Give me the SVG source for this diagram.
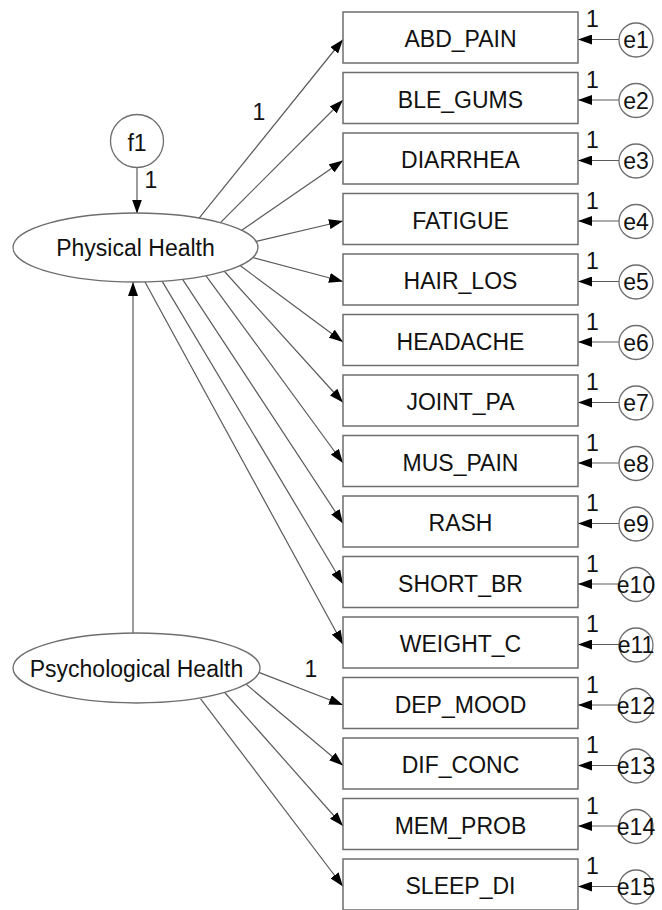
<svg xmlns="http://www.w3.org/2000/svg" width="662" height="910" viewBox="0 0 662 910">
  <defs>
    <marker id="arrow" viewBox="0 0 14 10" refX="14" refY="5" markerWidth="14" markerHeight="10" markerUnits="userSpaceOnUse" orient="auto">
      <path d="M0,0 L14,5 L0,10 z" fill="#000"/>
    </marker>
    <style>
      .path{stroke:#5a5a5a;stroke-width:1.2;fill:none;marker-end:url(#arrow)}
      .obs{fill:#fff;stroke:#6e6e6e;stroke-width:1.5}
      .lat{fill:#fff;stroke:#6e6e6e;stroke-width:1.3}
      text{font-family:"Liberation Sans",Arial,sans-serif;fill:#111;font-size:23px}
      .c{text-anchor:middle}
    </style>
  </defs>
  <rect width="662" height="910" fill="#fff"/>

  <!-- paths: latent -> indicator, error -> indicator, f1 -> latent, latent -> latent -->
  <g id="connectors">
    <line class="path" x1="137" y1="165" x2="137" y2="213.5"/>
    <line class="path" x1="133" y1="636" x2="133" y2="282"/>
    <line class="path" x1="197.5" y1="220.1" x2="343" y2="39.5"/>
    <line class="path" x1="220.2" y1="222.8" x2="343" y2="100"/>
    <line class="path" x1="241.7" y1="230.3" x2="343" y2="160.5"/>
    <line class="path" x1="254.1" y1="241.9" x2="343" y2="221"/>
    <line class="path" x1="251.1" y1="257" x2="343" y2="281.5"/>
    <line class="path" x1="238.8" y1="264.6" x2="343" y2="342"/>
    <line class="path" x1="222.3" y1="269" x2="343" y2="402.5"/>
    <line class="path" x1="204.6" y1="273.8" x2="343" y2="463"/>
    <line class="path" x1="180.8" y1="276.7" x2="343" y2="523.5"/>
    <line class="path" x1="160" y1="277.6" x2="343" y2="584"/>
    <line class="path" x1="143.1" y1="278.5" x2="343" y2="644.5"/>
    <line class="path" x1="254.3" y1="670.6" x2="343" y2="705"/>
    <line class="path" x1="243.9" y1="682.4" x2="343" y2="765.5"/>
    <line class="path" x1="224.3" y1="692" x2="343" y2="826"/>
    <line class="path" x1="200.6" y1="698.8" x2="343" y2="886.5"/>
    <!-- error terms -->
    <line class="path" x1="619" y1="39.5" x2="578" y2="39.5"/>
    <line class="path" x1="619" y1="100" x2="578" y2="100"/>
    <line class="path" x1="619" y1="160.5" x2="578" y2="160.5"/>
    <line class="path" x1="619" y1="221" x2="578" y2="221"/>
    <line class="path" x1="619" y1="281.5" x2="578" y2="281.5"/>
    <line class="path" x1="619" y1="342" x2="578" y2="342"/>
    <line class="path" x1="619" y1="402.5" x2="578" y2="402.5"/>
    <line class="path" x1="619" y1="463" x2="578" y2="463"/>
    <line class="path" x1="619" y1="523.5" x2="578" y2="523.5"/>
    <line class="path" x1="619" y1="584" x2="578" y2="584"/>
    <line class="path" x1="619" y1="644.5" x2="578" y2="644.5"/>
    <line class="path" x1="619" y1="705" x2="578" y2="705"/>
    <line class="path" x1="619" y1="765.5" x2="578" y2="765.5"/>
    <line class="path" x1="619" y1="826" x2="578" y2="826"/>
    <line class="path" x1="619" y1="886.5" x2="578" y2="886.5"/>
    <!-- fixed weights -->
    <text x="144.5" y="188">1</text>
    <text x="252.5" y="120">1</text>
    <text x="304.5" y="677">1</text>
    <text x="586" y="27">1</text>
    <text x="586" y="87.5">1</text>
    <text x="586" y="148">1</text>
    <text x="586" y="208.5">1</text>
    <text x="586" y="269">1</text>
    <text x="586" y="329.5">1</text>
    <text x="586" y="390">1</text>
    <text x="586" y="450.5">1</text>
    <text x="586" y="511">1</text>
    <text x="586" y="571.5">1</text>
    <text x="586" y="632">1</text>
    <text x="586" y="692.5">1</text>
    <text x="586" y="753">1</text>
    <text x="586" y="813.5">1</text>
    <text x="586" y="874">1</text>
  </g>

  <!-- latent variables -->
  <g id="f1"><circle class="lat" cx="137" cy="141" r="26.5"/><text class="c" x="137" y="151">f1</text></g>
  <g id="physical"><ellipse class="lat" cx="135.5" cy="247.5" rx="122.5" ry="34.5"/><text class="c" x="135.5" y="256">Physical Health</text></g>
  <g id="psychological"><ellipse class="lat" cx="136.5" cy="668" rx="123.5" ry="35"/><text class="c" x="136.5" y="677">Psychological Health</text></g>

  <!-- observed indicators -->
  <g id="abd_pain"><rect class="obs" x="343" y="12" width="235" height="51"/><text class="c" x="460.5" y="47">ABD_PAIN</text></g>
  <g id="ble_gums"><rect class="obs" x="343" y="72.5" width="235" height="51"/><text class="c" x="460.5" y="107.5">BLE_GUMS</text></g>
  <g id="diarrhea"><rect class="obs" x="343" y="133" width="235" height="51"/><text class="c" x="460.5" y="168">DIARRHEA</text></g>
  <g id="fatigue"><rect class="obs" x="343" y="193.5" width="235" height="51"/><text class="c" x="460.5" y="228.5">FATIGUE</text></g>
  <g id="hair_los"><rect class="obs" x="343" y="254" width="235" height="51"/><text class="c" x="460.5" y="289">HAIR_LOS</text></g>
  <g id="headache"><rect class="obs" x="343" y="314.5" width="235" height="51"/><text class="c" x="460.5" y="349.5">HEADACHE</text></g>
  <g id="joint_pa"><rect class="obs" x="343" y="375" width="235" height="51"/><text class="c" x="460.5" y="410">JOINT_PA</text></g>
  <g id="mus_pain"><rect class="obs" x="343" y="435.5" width="235" height="51"/><text class="c" x="460.5" y="470.5">MUS_PAIN</text></g>
  <g id="rash"><rect class="obs" x="343" y="496" width="235" height="51"/><text class="c" x="460.5" y="531">RASH</text></g>
  <g id="short_br"><rect class="obs" x="343" y="556.5" width="235" height="51"/><text class="c" x="460.5" y="591.5">SHORT_BR</text></g>
  <g id="weight_c"><rect class="obs" x="343" y="617" width="235" height="51"/><text class="c" x="460.5" y="652">WEIGHT_C</text></g>
  <g id="dep_mood"><rect class="obs" x="343" y="677.5" width="235" height="51"/><text class="c" x="460.5" y="712.5">DEP_MOOD</text></g>
  <g id="dif_conc"><rect class="obs" x="343" y="738" width="235" height="51"/><text class="c" x="460.5" y="773">DIF_CONC</text></g>
  <g id="mem_prob"><rect class="obs" x="343" y="798.5" width="235" height="51"/><text class="c" x="460.5" y="833.5">MEM_PROB</text></g>
  <g id="sleep_di"><rect class="obs" x="343" y="859" width="235" height="51"/><text class="c" x="460.5" y="894">SLEEP_DI</text></g>

  <!-- error terms -->
  <g id="e1"><circle class="lat" cx="636" cy="40" r="17"/><text class="c" x="636" y="48">e1</text></g>
  <g id="e2"><circle class="lat" cx="636" cy="100.5" r="17"/><text class="c" x="636" y="108.5">e2</text></g>
  <g id="e3"><circle class="lat" cx="636" cy="161" r="17"/><text class="c" x="636" y="169">e3</text></g>
  <g id="e4"><circle class="lat" cx="636" cy="221.5" r="17"/><text class="c" x="636" y="229.5">e4</text></g>
  <g id="e5"><circle class="lat" cx="636" cy="282" r="17"/><text class="c" x="636" y="290">e5</text></g>
  <g id="e6"><circle class="lat" cx="636" cy="342.5" r="17"/><text class="c" x="636" y="350.5">e6</text></g>
  <g id="e7"><circle class="lat" cx="636" cy="403" r="17"/><text class="c" x="636" y="411">e7</text></g>
  <g id="e8"><circle class="lat" cx="636" cy="463.5" r="17"/><text class="c" x="636" y="471.5">e8</text></g>
  <g id="e9"><circle class="lat" cx="636" cy="524" r="17"/><text class="c" x="636" y="532">e9</text></g>
  <g id="e10"><circle class="lat" cx="636" cy="584.5" r="17"/><text class="c" x="636" y="592.5">e10</text></g>
  <g id="e11"><circle class="lat" cx="636" cy="645" r="17"/><text class="c" x="636" y="653">e11</text></g>
  <g id="e12"><circle class="lat" cx="636" cy="705.5" r="17"/><text class="c" x="636" y="713.5">e12</text></g>
  <g id="e13"><circle class="lat" cx="636" cy="766" r="17"/><text class="c" x="636" y="774">e13</text></g>
  <g id="e14"><circle class="lat" cx="636" cy="826.5" r="17"/><text class="c" x="636" y="834.5">e14</text></g>
  <g id="e15"><circle class="lat" cx="636" cy="887" r="17"/><text class="c" x="636" y="895">e15</text></g>
</svg>
